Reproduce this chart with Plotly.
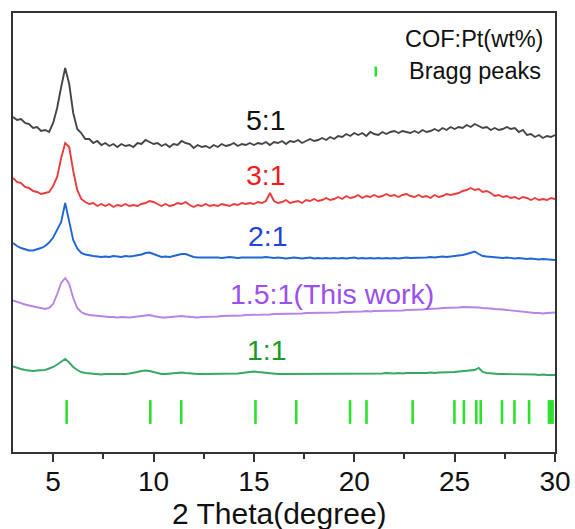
import plotly.graph_objects as go

# 2-theta sampling grid (degrees), 0.2 degree step from 3 to 30
two_theta = [round(3 + 0.2 * i, 1) for i in range(136)]

# Stacked XRD intensities (a.u., vertically offset) for each COF:Pt ratio
cof_5_1 = [
    341, 338, 339, 335, 334, 330, 331, 327, 328, 326,
    335, 350, 371, 390, 374, 345, 329, 325, 319, 319,
    315, 317, 313, 315, 312, 314, 311, 314, 312, 313,
    311, 315, 314, 318, 316, 314, 315, 312, 314, 311,
    314, 313, 317, 315, 314, 310, 313, 311, 312, 310,
    313, 311, 314, 312, 313, 315, 312, 314, 313, 315,
    313, 315, 314, 316, 313, 316, 315, 317, 314, 317,
    316, 318, 315, 317, 319, 317, 318, 320, 318, 321,
    319, 322, 321, 324, 322, 325, 323, 325, 322, 326,
    324, 323, 326, 324, 326, 327, 325, 327, 326, 325,
    327, 325, 328, 326, 327, 329, 327, 330, 328, 331,
    329, 331, 330, 333, 331, 334, 332, 330, 331, 328,
    330, 328, 329, 331, 329, 330, 326, 328, 323, 324,
    321, 323, 320, 322, 321, 323,
]
cof_3_1 = [
    280, 276, 275, 271, 270, 267, 266, 264, 265, 266,
    272, 281, 300, 315, 311, 287, 268, 259, 256, 254,
    255, 252, 254, 252, 254, 251, 253, 252, 254, 252,
    253, 252, 254, 255, 257, 256, 254, 252, 254, 252,
    253, 255, 254, 256, 253, 251, 253, 252, 254, 252,
    253, 252, 254, 253, 252, 254, 253, 255, 254, 255,
    254, 256, 255, 257, 265, 257, 255, 256, 258, 255,
    256, 257, 255, 258, 257, 259, 257, 258, 260, 258,
    259, 261, 259, 262, 260, 261, 263, 260, 262, 261,
    263, 261, 262, 264, 262, 263, 261, 263, 264, 262,
    261, 263, 261, 262, 260, 263, 261, 262, 264, 263,
    264, 265, 267, 268, 270, 268, 269, 266, 267, 265,
    262, 263, 261, 262, 260, 261, 259, 261, 260, 258,
    260, 258, 259, 258, 260, 259,
]
cof_2_1 = [
    215, 212, 210, 208.5, 207.5, 207.5, 208.5, 210, 212, 215.5,
    220.5, 228, 236, 255, 236, 218, 209.5, 205, 203.5, 202.5,
    202, 201.5, 201, 201.5, 201, 202, 201.5, 201, 202, 201.5,
    202, 202.5, 203.5, 205, 205.5, 204, 202.5, 201, 201.5, 201,
    202, 203, 204, 204, 202.5, 201, 200.5, 200.5, 201, 200.5,
    201, 200.5, 200, 200.5, 201, 200.5, 200, 200.5, 200.5, 200,
    200.5, 200, 200.5, 201, 200.5, 200, 200.5, 200, 199.5, 200,
    200.5, 200, 199.5, 200, 200.5, 199.5, 200, 199.5, 200, 199.5,
    200, 199.5, 200, 199.5, 200, 200.5, 199.5, 200, 199.5, 200,
    199.5, 200, 199.5, 200, 199.5, 200, 199.5, 200, 200.5, 200,
    200, 200.5, 200, 200.5, 201, 200.5, 201, 201.5, 201, 201.5,
    202, 202, 203, 204, 205.5, 206.5, 204, 202, 201.5, 201,
    201, 200.5, 200, 200.5, 200, 199.5, 200, 199.5, 199, 199.5,
    199, 198.5, 199, 198.5, 198, 198,
]
cof_1_5_1 = [
    157.5, 156, 155, 153.5, 152.5, 151.5, 150.5, 149.5, 149, 150,
    154, 164, 175, 180, 174, 160, 150, 146, 144, 143,
    142.5, 142, 141.5, 141.5, 141, 141, 140.5, 141, 140.5, 140.5,
    141, 141.5, 142, 143, 143, 142, 141, 140.5, 140.5, 141,
    141.5, 142, 142, 141.5, 141, 140.5, 140.5, 141, 141, 141,
    141.5, 141.5, 142, 142, 142, 142.5, 142.5, 142.5, 143, 143,
    143, 143, 143.5, 143.5, 143.5, 144, 144, 144, 144.5, 144,
    144.5, 144.5, 144.5, 145, 145, 145, 145, 145.5, 145.5, 145.5,
    145.5, 145.5, 146, 146, 146, 146.5, 146.5, 146.5, 147, 146.5,
    147, 147, 147, 147.5, 147, 147.5, 147.5, 147.5, 148, 148,
    148, 148.5, 148.5, 149, 149, 149.5, 149.5, 150, 150, 150.5,
    150.5, 150.5, 151, 151, 151, 150.5, 150.5, 150, 150, 149.5,
    149, 149, 148.5, 148, 147.5, 147, 146.5, 146, 145.5, 145,
    145, 145, 144.5, 145, 145.5, 145.5,
]
cof_1_1 = [
    91.5, 90, 89, 88, 87.5, 87, 87.5, 87.5, 88, 89.5,
    91, 93.5, 96.5, 99, 95.5, 91, 88, 86, 85, 84.5,
    84, 84, 83.5, 84, 84, 83.5, 84, 84, 84, 84.5,
    85, 86, 87, 87.5, 87, 86, 85, 84, 84, 84.5,
    85, 85.5, 85.5, 85, 84.5, 84, 84, 84, 84, 84.5,
    84, 84, 84.5, 84, 84.5, 84.5, 84.5, 85, 85.5, 86,
    86.5, 86, 85.5, 85, 84.5, 84.5, 84, 84, 84, 84,
    84, 84, 84.5, 84, 84, 84.5, 84, 84.5, 84, 84.5,
    84.5, 84, 84.5, 84.5, 84.5, 84, 84.5, 84.5, 84.5, 84.5,
    84.5, 84.5, 84.5, 85, 84.5, 84.5, 85, 84.5, 85, 85,
    84.5, 85, 85, 85, 85.5, 85, 85.5, 85.5, 86, 86,
    86, 86.5, 87, 87, 87.5, 88, 90, 86, 85, 84.5,
    84.5, 84, 84, 84, 84, 83.5, 84, 83.5, 83.5, 83.5,
    83.5, 83, 83.5, 83, 83, 83,
]

# Simulated Bragg reflection positions (2-theta, degrees)
bragg_peaks = [5.67, 9.84, 11.38, 15.08, 17.11, 19.79, 20.61, 22.91, 24.99,
               25.46, 26.08, 26.30, 27.36, 27.98, 28.71, 29.70, 29.79, 29.88]

series_names = ["5:1", "3:1", "2:1", "1.5:1(This work)", "1:1"]
series_values = [cof_5_1, cof_3_1, cof_2_1, cof_1_5_1, cof_1_1]
line_colors = ["#454545", "#ec3b3b", "#2166d4", "#b784e6", "#35a862"]
label_colors = ["#111111", "#f01c1c", "#1f45e0", "#9b4ff0", "#1c9a25"]
label_x = [15.62, 15.62, 15.68, 18.9, 15.66]
label_y = [338, 283, 222, 164, 108]

FONT = "Arial, Liberation Sans, sans-serif"
BRAGG_GREEN = "#2ee02e"
BRAGG_LEVEL = 46

fig = go.Figure()

for name, vals, col in zip(series_names, series_values, line_colors):
    fig.add_trace(go.Scatter(
        x=two_theta, y=vals, mode="lines", name=name,
        line=dict(color=col, width=1.9), showlegend=False,
    ))

fig.add_trace(go.Scatter(
    x=bragg_peaks, y=[BRAGG_LEVEL] * len(bragg_peaks), mode="markers",
    name="Bragg peaks", showlegend=False,
    marker=dict(symbol="line-ns", size=17,
                line=dict(color=BRAGG_GREEN, width=2.6)),
))

for name, lx, ly, lc in zip(series_names, label_x, label_y, label_colors):
    fig.add_annotation(x=lx, y=ly, text=name, showarrow=False,
                       xanchor="center", yanchor="middle",
                       font=dict(family=FONT, size=28.5, color=lc))

# Legend block in the upper right corner
fig.add_annotation(x=25.97, y=419, text="COF:Pt(wt%)", showarrow=False,
                   xanchor="center", yanchor="middle",
                   font=dict(family=FONT, size=23.5, color="#111111"))
fig.add_annotation(x=22.62, y=387, text="Bragg peaks", showarrow=False,
                   xanchor="left", yanchor="middle",
                   font=dict(family=FONT, size=23.5, color="#111111"))
fig.add_shape(type="line", xref="x", yref="y", x0=21.07, x1=21.07,
              y0=381.5, y1=391.5, line=dict(color=BRAGG_GREEN, width=2.6))

# X-axis title placed below the tick labels
fig.add_annotation(x=16.3, xref="x", y=-0.139, yref="paper",
                   text="2 Theta(degree)", showarrow=False,
                   xanchor="center", yanchor="middle",
                   font=dict(family=FONT, size=30, color="#111111"))

axis_common = dict(showline=True, linecolor="#333333", linewidth=2,
                   mirror=True, showgrid=False, zeroline=False,
                   automargin=False)

fig.update_xaxes(
    range=[3, 30], tickmode="array", tickvals=[5, 10, 15, 20, 25, 30],
    ticks="outside", ticklen=8, tickwidth=1.5, tickcolor="#333333",
    minor=dict(tickmode="array", tickvals=[7.5, 12.5, 17.5, 22.5, 27.5],
               ticks="outside", ticklen=5, tickwidth=1.5, tickcolor="#333333"),
    tickfont=dict(family=FONT, size=28, color="#111111"),
    ticklabelstandoff=-5,
    **axis_common,
)
fig.update_yaxes(range=[6, 445], showticklabels=False, ticks="", **axis_common)

fig.update_layout(
    width=575, height=529,
    margin=dict(l=13, r=20, t=13, b=77),
    plot_bgcolor="white", paper_bgcolor="white",
    showlegend=False,
)

fig.write_html("out.html")
